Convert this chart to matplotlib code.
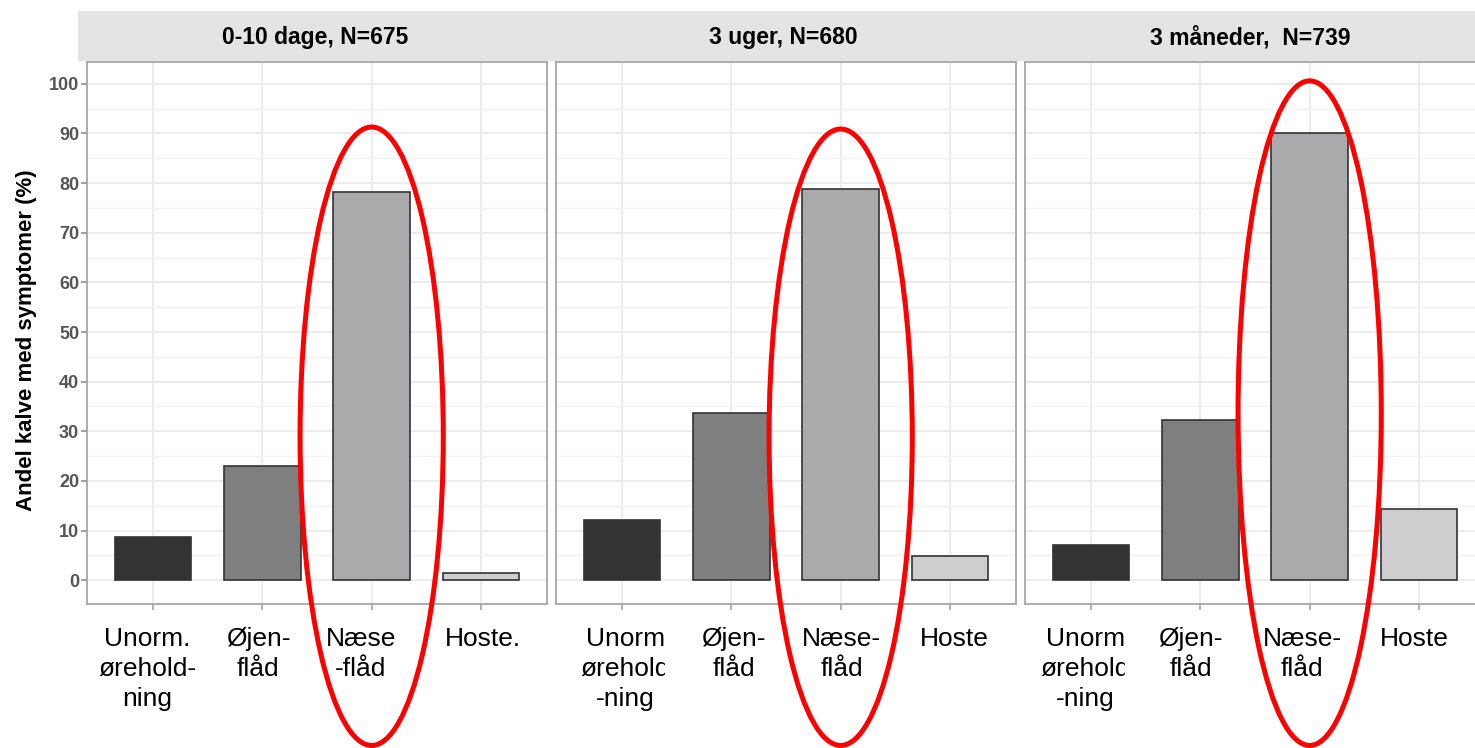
import matplotlib
matplotlib.use('Agg')
import matplotlib.pyplot as plt
import matplotlib.transforms as mtransforms
from matplotlib.patches import Ellipse, Rectangle
import numpy as np

plt.rcParams['font.family'] = ['Liberation Sans', 'DejaVu Sans']

# Data
PANELS = ["0-10 dage, N=675", "3 uger, N=680", "3 måneder,  N=739"]
SYMPTOMS = ["Unormal ørehold", "Øjenflåd", "Næseflåd", "Hoste"]
VALUES = [
    [8.7, 23.0, 78.2, 1.4],
    [12.1, 33.7, 78.8, 4.8],
    [7.1, 32.3, 90.1, 14.3],
]
TICK_LABELS = [
    ["Unorm.\nørehold-\nning", "Øjen-\nflåd", "Næse\n-flåd", "Hoste."],
    ["Unorm\nørehold\n-ning", "Øjen-\nflåd", "Næse-\nflåd", "Hoste"],
    ["Unorm\nørehold\n-ning", "Øjen-\nflåd", "Næse-\nflåd", "Hoste"],
]
# red ring around the nasal discharge bar (top / bottom in % units)
RING_TOP = [91.3, 90.9, 100.6]
RING_BOTTOM = [-33.3, -33.3, -33.3]

BAR_COLORS = ["#333333", "#7f7f7f", "#aaaaac", "#cfcdd0"]
W, H = 1475, 748

fig = plt.figure(figsize=(W / 100, H / 100), dpi=100)

def fx(px):
    return px / W

def fy(px):
    return 1 - px / H

panel_left = [87.4, 556.4, 1025.4]
panel_w = 459.2
strip_x = [(78, 553), (553, 1013), (1013, 1487)]
label_nudge = [[-0.05, -0.04, -0.1, 0.02],
               [0.03, 0.02, 0.01, 0.04],
               [-0.05, -0.09, -0.07, -0.04]]
label_clip = [None, 665, 1125]

x = np.arange(len(SYMPTOMS))
for i, title in enumerate(PANELS):
    ax = fig.add_axes([fx(panel_left[i]), fy(604), fx(panel_w), (604 - 62) / H])
    ax.set_xlim(-0.6, 3.6)
    ax.set_ylim(-4.8, 104.4)
    ax.bar(x, VALUES[i], width=0.7, color=BAR_COLORS, edgecolor="#333333",
           linewidth=1.2, zorder=3)

    ax.set_yticks(np.arange(0, 101, 10))
    ax.set_yticks(np.arange(5, 101, 10), minor=True)
    ax.set_xticks(x)
    ax.set_xticklabels([])
    ax.grid(True, which="major", color="#ebebeb", linewidth=1.3, zorder=0)
    ax.grid(True, which="minor", axis="y", color="#f2f2f2", linewidth=1.0, zorder=0)
    ax.set_axisbelow(True)
    for s in ax.spines.values():
        s.set_color("#a6a6a6")
        s.set_linewidth(1.3)
    ax.tick_params(axis="x", length=4, color="#a6a6a6", width=1.2)
    ax.tick_params(axis="y", which="minor", length=0)
    if i == 0:
        ax.tick_params(axis="y", length=4, color="#8c8c8c", width=1.2,
                       labelsize=13, labelcolor="#555555", pad=2)
        for t in ax.get_yticklabels():
            t.set_fontweight("bold")
    else:
        ax.tick_params(axis="y", length=0, labelleft=False)

    # red ring
    ring_c = (RING_TOP[i] + RING_BOTTOM[i]) / 2
    ring_h = RING_TOP[i] - RING_BOTTOM[i]
    ax.add_patch(Ellipse((2, ring_c), 1.31, ring_h, fill=False, edgecolor="#ff0000",
                         linewidth=3.6, clip_on=False, zorder=10))

    # category labels
    trans = mtransforms.blended_transform_factory(ax.transData, fig.transFigure)
    for j, lab in enumerate(TICK_LABELS[i]):
        t = ax.text(x[j] + label_nudge[i][j], fy(627), lab, transform=trans,
                    ha="center", va="top", fontsize=19, linespacing=1.31,
                    color="black", clip_on=True)
        if j == 0 and label_clip[i] is not None:
            t.set_clip_path(Rectangle((0, 0), fx(label_clip[i]), 1,
                                      transform=fig.transFigure))
        else:
            t.set_clip_on(False)

    # strip header
    x0, x1 = strip_x[i]
    fig.patches.append(Rectangle((fx(x0), fy(61)), fx(x1 - x0), (61 - 11) / H,
                                 transform=fig.transFigure, facecolor="#e4e4e4",
                                 edgecolor="none", zorder=0))
    fig.text(fx((x0 + x1) / 2), fy(44), title, ha="center", va="baseline",
             fontsize=16.5, fontweight="bold")

fig.text(fx(27), fy(340), "Andel kalve med symptomer (%)", rotation=90,
         ha="center", va="center", fontsize=16, fontweight="bold")

fig.savefig("out.png", dpi=100)
